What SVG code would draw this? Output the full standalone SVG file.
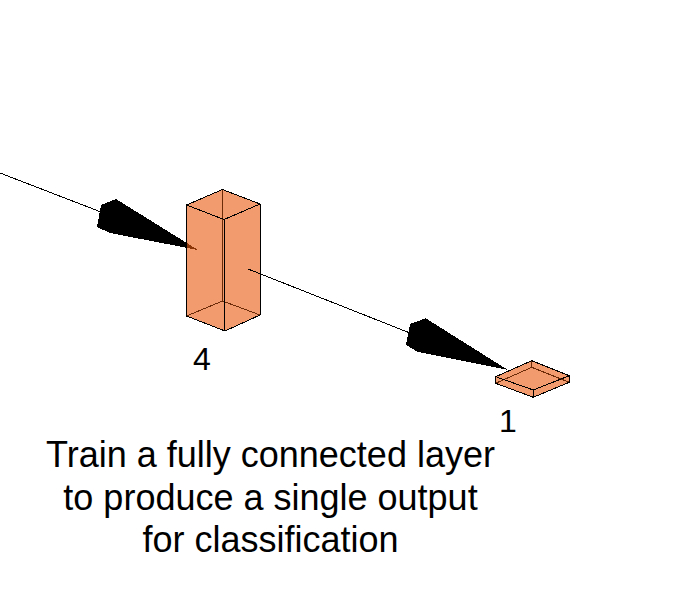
<svg xmlns="http://www.w3.org/2000/svg" width="686" height="596" viewBox="0 0 686 596">
<style>
.e{fill:none;stroke:#000;stroke-width:1;stroke-linejoin:round;shape-rendering:crispEdges}
.b{fill:none;stroke:#6b2a08;stroke-width:1;shape-rendering:crispEdges}
.f{fill:rgb(233,88,13);fill-opacity:.6;stroke:none}
.h{fill:#000;stroke:none;shape-rendering:crispEdges}
.t{font-family:"Liberation Sans",Arial,sans-serif;fill:#000}
.m{font-size:36px;text-anchor:middle}
.n{font-size:32px;text-anchor:middle}
</style>
<rect width="686" height="596" fill="#fff"/>
<g id="connectors">
<path class="e" d="M0 173L101 212"/>
<path class="h" d="M198 250L116 199L101 205L97 227L110 233Z"/>
<path class="e" d="M248 269L410 333"/>
<path class="h" d="M508 370L425.700 318.300L410 324L406 345L418 352Z"/>
</g>
<g id="node-4">
<path class="f" d="M186.500 205L222.500 189.500L260 204L260 315L225 331L186.500 316Z"/>
<path class="b" d="M222.500 219V301M186.500 316L222.500 301L260 315M222.500 189.500V219"/>
<path class="e" d="M186.500 205L222.500 189.500L260 204L224 219.500ZM186.500 205V316L225 331L260 315V204M224.500 219.500L225 331"/>
<path class="e" d="M248 269L262 274.500"/>
<text class="t n" x="202" y="370">4</text>
</g>
<g id="node-1">
<path class="f" d="M495.700 376.700L531.700 360.700L569.300 375.700V382.300L533.300 397.300L495.700 383.300Z"/>
<path class="b" d="M531.700 360.700V367.300M495.700 383.300L531.700 367.300L569.300 382.300"/>
<path class="e" d="M495.700 376.700L531.700 360.700L569.300 375.700L533.300 390ZM495.700 376.700V383.300L533.300 397.300L569.300 382.300V375.700M533.300 390V397.300"/>
<text class="t n" x="508" y="432">1</text>
</g>
<g id="caption">
<text class="t m" x="270.500" y="467">Train a fully connected layer</text>
<text class="t m" x="270.500" y="510">to produce a single output</text>
<text class="t m" x="270.500" y="552">for classification</text>
</g>
</svg>
